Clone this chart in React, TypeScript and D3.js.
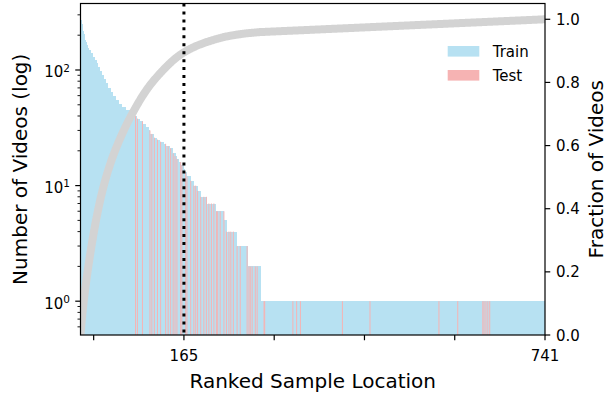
import React, { useRef, useEffect } from 'react';
import * as d3 from 'd3';

// ranked sample locations: video counts as runs (count, number of locations)
const runCounts = [270, 248, 232, 218, 204, 192, 182, 173, 165, 156, 148, 140, 130, 122, 114, 106, 98, 90, 83,
  77, 70, 64, 59, 55, 51, 48, 45, 42, 40, 38, 36, 34, 32, 30, 28, 26, 25, 24, 23, 22, 21,
  19, 18, 17, 16, 15, 14, 13, 12, 11, 10, 9, 8, 7, 6, 5, 4, 3, 2, 1];
const runLengths = [1, 1, 1, 1, 1, 1, 1, 1, 2, 2, 3, 3, 3, 3, 3, 3, 3, 3, 3,
  4, 4, 4, 4, 5, 5, 6, 6, 6, 6, 5, 5, 4, 4, 4, 5, 5, 5, 5, 5, 5, 5,
  4, 3, 3, 4, 3, 2, 4, 5, 6, 6, 5, 10, 14, 14, 3, 16, 18, 20, 455];
// ranks of locations that belong to the test split
const testRanks = [87, 90, 98, 110, 113, 117, 122, 127, 135, 139, 143, 147, 150, 153, 159, 161, 167, 169,
  175, 180, 183, 186, 191, 196, 200, 204, 208, 212, 216, 218, 222, 228, 232, 236, 239, 243, 249, 254,
  265, 268, 270, 273, 278, 281, 292, 293, 338, 344, 350, 417, 461, 571, 601, 641, 643, 646, 649, 652];
const xTicks = [21, 165, 309, 453, 597, 741];
const xTickLabels = ['', '165', '', '', '', '741'];
const cutoff = 165;
const logTicks = [1, 10, 100];
const logTickExp = ['0', '1', '2'];
const fracTicks = [0, 0.2, 0.4, 0.6, 0.8, 1.0];
const legendItems = ['Train', 'Test'];

const TRAIN = '#b7e1f2';
const TEST = '#f6b3b3';
const FONT = 'DejaVu Sans, sans-serif';

const App = () => {
  const svgRef = useRef<SVGSVGElement>(null);
  const width = 612, height = 396;
  const L = 80.5, R = 545, T = 3.5, B = 335;

  useEffect(() => {
    const svg = d3.select(svgRef.current);
    svg.selectAll('*').remove();

    const counts: number[] = runCounts.flatMap((c, i) => Array(runLengths[i]).fill(c));
    const n = counts.length;
    const total = d3.sum(counts);
    const testSet = new Set(testRanks);

    const x = d3.scaleLinear().domain([0, n]).range([L, R]);
    const yL = d3.scaleLog().domain([0.51, 376]).range([B, T]);
    const yR = d3.scaleLinear().domain([0, 1.05]).range([B, T]);

    svg.append('defs').append('clipPath').attr('id', 'plot-clip')
      .append('rect').attr('x', L).attr('y', T).attr('width', R - L).attr('height', B - T);

    const plot = svg.append('g').attr('clip-path', 'url(#plot-clip)');

    // train bars (slight overlap so no seams show between neighbours)
    plot.append('g').attr('shape-rendering', 'crispEdges').selectAll('rect')
      .data(counts.map((c, i) => ({ c, i })).filter(d => !testSet.has(d.i)))
      .join('rect')
      .attr('x', d => x(d.i))
      .attr('width', d => x(d.i + 1) - x(d.i) + 1)
      .attr('y', d => yL(d.c))
      .attr('height', d => B - yL(d.c))
      .attr('fill', TRAIN);

    // test bars
    plot.append('g').selectAll('rect')
      .data(counts.map((c, i) => ({ c, i })).filter(d => testSet.has(d.i)))
      .join('rect')
      .attr('x', d => x(d.i))
      .attr('width', 1)
      .attr('y', d => yL(d.c))
      .attr('height', d => B - yL(d.c))
      .attr('fill', TEST);

    // cumulative fraction
    const cum = d3.cumsum(counts);
    const pts: [number, number][] = [[0, 0], ...Array.from(cum, (v, i) => [i + 1, v / total] as [number, number])];
    plot.append('path')
      .attr('d', d3.line<[number, number]>().x(d => x(d[0])).y(d => yR(d[1]))(pts))
      .attr('fill', 'none')
      .attr('stroke', '#d3d3d3')
      .attr('stroke-width', 8)
      .attr('stroke-linejoin', 'round');

    // cutoff line
    svg.append('line')
      .attr('x1', x(cutoff)).attr('x2', x(cutoff))
      .attr('y1', T).attr('y2', B)
      .attr('stroke', '#000')
      .attr('stroke-width', 3)
      .attr('stroke-dasharray', '3,4.95');

    // spines
    svg.append('rect')
      .attr('x', L).attr('y', T).attr('width', R - L).attr('height', B - T)
      .attr('fill', 'none').attr('stroke', '#000').attr('stroke-width', 1.2);

    const ticks = svg.append('g').attr('stroke', '#000');

    // x ticks
    xTicks.forEach((t, i) => {
      ticks.append('line').attr('x1', x(t)).attr('x2', x(t)).attr('y1', B).attr('y2', B + 5.25).attr('stroke-width', 1.2);
      if (xTickLabels[i]) {
        svg.append('text').attr('x', x(t)).attr('y', 361).attr('text-anchor', 'middle')
          .attr('font-family', FONT).attr('font-size', 15).text(xTickLabels[i]);
      }
    });

    // left log ticks
    const minor: number[] = [];
    [-1, 0, 1, 2].forEach(k => {
      for (let m = 2; m <= 9; m++) {
        const v = m * Math.pow(10, k);
        if (v > 0.51 && v < 376) minor.push(v);
      }
    });
    minor.forEach(v => {
      ticks.append('line').attr('x1', L - 3).attr('x2', L).attr('y1', yL(v)).attr('y2', yL(v)).attr('stroke-width', 0.9);
    });
    logTicks.forEach((v, i) => {
      ticks.append('line').attr('x1', L - 5.25).attr('x2', L).attr('y1', yL(v)).attr('y2', yL(v)).attr('stroke-width', 1.2);
      const t = svg.append('text').attr('x', 70).attr('y', yL(v) + 7.5).attr('text-anchor', 'end')
        .attr('font-family', FONT).attr('font-size', 15);
      t.append('tspan').text('10');
      t.append('tspan').attr('dy', -5.8).attr('font-size', 10.5).text(logTickExp[i]);
    });

    // right ticks
    fracTicks.forEach(v => {
      ticks.append('line').attr('x1', R).attr('x2', R + 5.25).attr('y1', yR(v)).attr('y2', yR(v)).attr('stroke-width', 1.2);
      svg.append('text').attr('x', 556).attr('y', yR(v) + 5.5)
        .attr('font-family', FONT).attr('font-size', 15).text(v.toFixed(1));
    });

    // axis labels
    svg.append('text').attr('x', (L + R) / 2).attr('y', 388).attr('text-anchor', 'middle')
      .attr('font-family', FONT).attr('font-size', 20).text('Ranked Sample Location');
    svg.append('text').attr('transform', `translate(27,${(T + B) / 2}) rotate(-90)`).attr('text-anchor', 'middle')
      .attr('font-family', FONT).attr('font-size', 20).text('Number of Videos (log)');
    svg.append('text').attr('transform', `translate(603,${(T + B) / 2}) rotate(-90)`).attr('text-anchor', 'middle')
      .attr('font-family', FONT).attr('font-size', 20).text('Fraction of Videos');

    // legend
    const lg = svg.append('g');
    legendItems.forEach((name, i) => {
      const cy = 51.3 + i * 24;
      lg.append('rect').attr('x', 447.7).attr('y', cy - 5.3).attr('width', 31.6).attr('height', 10.6)
        .attr('fill', i === 0 ? TRAIN : TEST);
      lg.append('text').attr('x', 492.7).attr('y', cy + 5.5)
        .attr('font-family', FONT).attr('font-size', 15).text(name);
    });
  }, []);

  return (
    <svg ref={svgRef} width={width} height={height}
      style={{ position: 'absolute', left: 0, top: 0, display: 'block', background: '#fff' }} />
  );
};

export default App;
